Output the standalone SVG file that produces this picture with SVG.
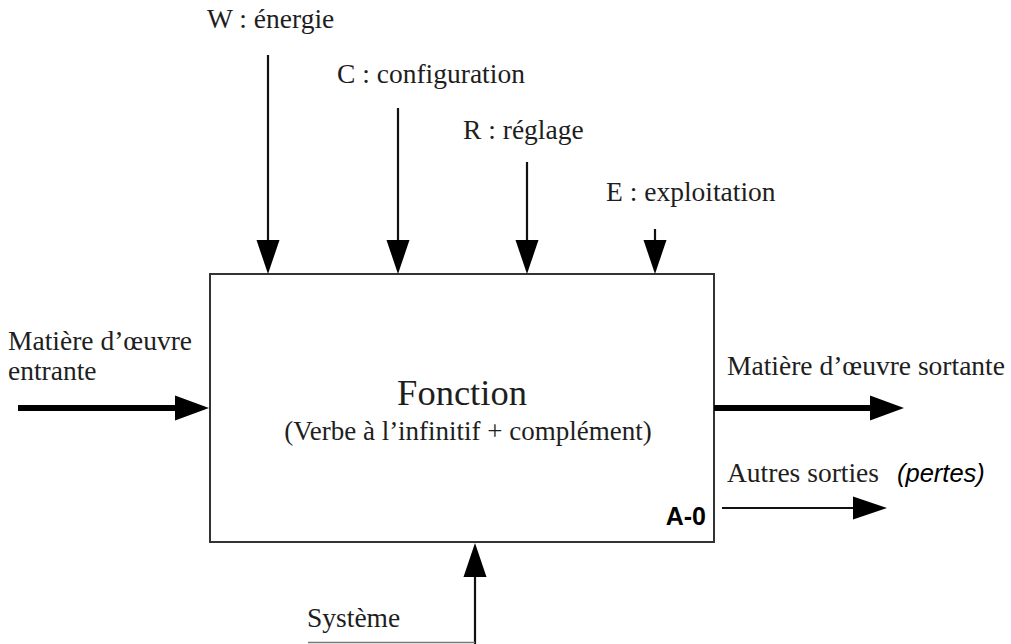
<svg xmlns="http://www.w3.org/2000/svg" width="1011" height="644" viewBox="0 0 1011 644">
<style>
.t{font-family:"Liberation Serif","Times New Roman",serif;font-size:27.5px;fill:#1e1e1e}
.thin{stroke:#111;stroke-width:2.2;fill:none}
.thick{stroke:#000;stroke-width:6;fill:none}
</style>
<defs>
<marker id="ah" markerUnits="userSpaceOnUse" markerWidth="34" markerHeight="24" viewBox="0 -12 34 24" refX="0" refY="0" orient="auto" overflow="visible"><path d="M0,-11.5 L34,0 L0,11.5 z" fill="#000"/></marker>
<marker id="ahT" markerUnits="userSpaceOnUse" markerWidth="34" markerHeight="26" viewBox="0 -13 34 26" refX="0" refY="0" orient="auto" overflow="visible"><path d="M0,-12.5 L34,0 L0,12.5 z" fill="#000"/></marker>
</defs>
<rect width="1011" height="644" fill="#fff"/>
<g id="fonction">
<rect x="210" y="274" width="504" height="268" fill="#fff" stroke="#333" stroke-width="2"/>
<text class="t" x="462" y="405" text-anchor="middle" style="font-size:36.5px">Fonction</text>
<text class="t" x="468" y="440" text-anchor="middle" style="font-size:27px">(Verbe à l’infinitif + complément)</text>
<text x="706" y="525" text-anchor="end" font-family="Liberation Sans,Arial,sans-serif" font-weight="bold" font-size="25" fill="#000">A-0</text>
</g>
<g id="connectors">
<line class="thin" x1="268" y1="55" x2="268" y2="240" marker-end="url(#ah)"/>
<line class="thin" x1="398" y1="108" x2="398" y2="240" marker-end="url(#ah)"/>
<line class="thin" x1="527" y1="162" x2="527" y2="240" marker-end="url(#ah)"/>
<line class="thin" x1="655" y1="229" x2="655" y2="240" marker-end="url(#ah)"/>
<line class="thick" x1="18" y1="408" x2="175" y2="408" marker-end="url(#ahT)"/>
<line class="thick" x1="714" y1="408" x2="870" y2="408" marker-end="url(#ahT)"/>
<line class="thin" x1="722" y1="508" x2="853" y2="508" marker-end="url(#ah)"/>
<line class="thin" x1="475" y1="644" x2="475" y2="577" marker-end="url(#ah)"/>
<line x1="308" y1="642.5" x2="475" y2="642.5" stroke="#777" stroke-width="1.5"/>
</g>
<g id="w-energie"><text class="t" x="207" y="28">W : énergie</text></g>
<g id="c-configuration"><text class="t" x="337" y="83">C : configuration</text></g>
<g id="r-reglage"><text class="t" x="463" y="139">R : réglage</text></g>
<g id="e-exploitation"><text class="t" x="606" y="201">E : exploitation</text></g>
<g id="entree">
<text class="t" x="8" y="350">Matière d’œuvre</text>
<text class="t" x="8" y="380">entrante</text>
</g>
<g id="sortie"><text class="t" x="727" y="375">Matière d’œuvre sortante</text></g>
<g id="pertes">
<text class="t" x="727" y="482">Autres sorties</text>
<text x="897" y="482" font-family="Liberation Sans,Arial,sans-serif" font-style="italic" font-size="25.5" fill="#000">(pertes)</text>
</g>
<g id="systeme"><text class="t" x="307" y="627">Système</text></g>
</svg>
